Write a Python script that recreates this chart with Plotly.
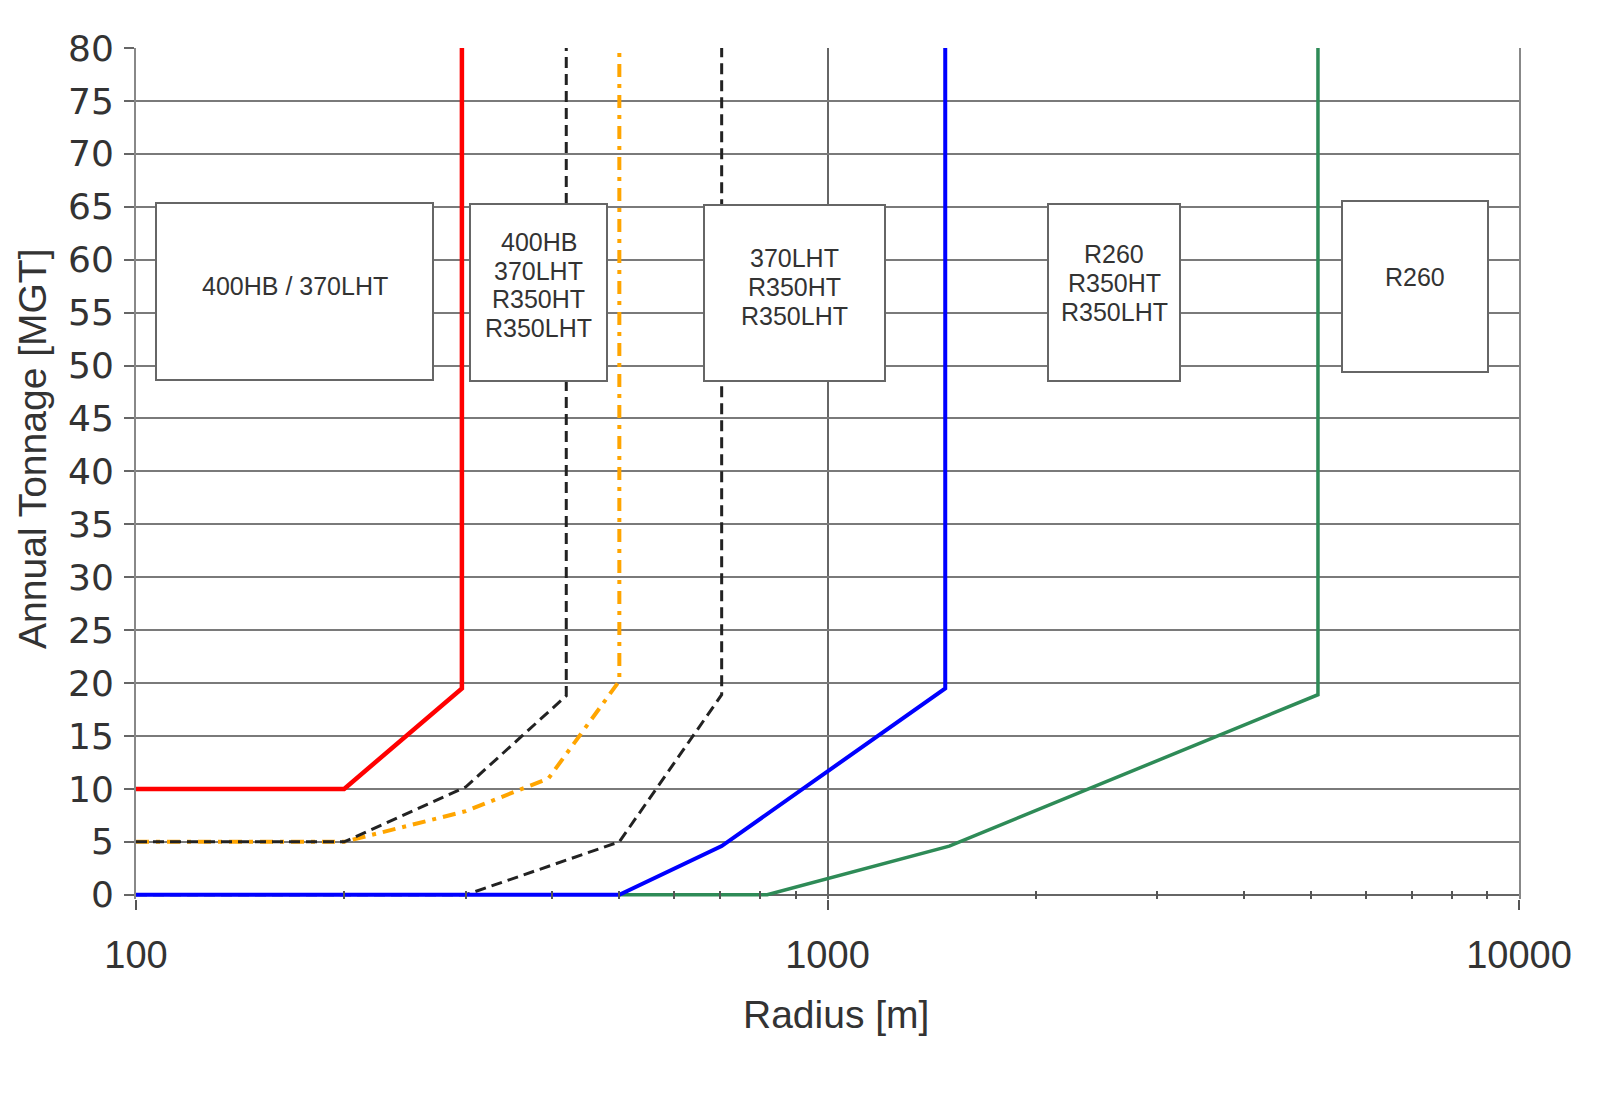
"""
Annual tonnage vs. curve radius: rail grade selection chart
"""

import plotly.graph_objects as go

# --- data ------------------------------------------------------------------
red_x = [100, 200, 296, 296]
red_y = [10, 10, 19.5, 80]

black1_x = [100, 200, 300, 419, 419]
black1_y = [5, 5, 10.2, 18.8, 80]

orange_x = [100, 200, 300, 395, 500, 500]
orange_y = [5, 5, 7.9, 11, 20.2, 80]

black2_x = [100, 300, 500, 703, 703]
black2_y = [0, 0, 5, 18.9, 80]

blue_x = [100, 500, 703, 1480, 1480]
blue_y = [0, 0, 4.6, 19.5, 80]

green_x = [500, 818, 1500, 5120, 5120]
green_y = [0, 0, 4.6, 18.9, 80]

box_labels = [
    ["400HB / 370LHT"],
    ["400HB", "370LHT", "R350HT", "R350LHT"],
    ["370LHT", "R350HT", "R350LHT"],
    ["R260", "R350HT", "R350LHT"],
    ["R260"],
]

y_ticks = list(range(0, 85, 5))
x_ticks = [100, 1000, 10000]
x_minor = [200, 300, 400, 500, 600, 700, 800, 900,
           2000, 3000, 4000, 5000, 6000, 7000, 8000, 9000]

# --- layout geometry (page pixels) -----------------------------------------
OFF = 8                           # page body margin around the plot div
W, H = 1600 - OFF, 1093 - OFF
PL, PR, PT = 136, 1519, 48
Y0_PX = 895                       # pixel row of y = 0
Y_MIN = -0.4
PB = Y0_PX + (Y0_PX - PT) / 80 * (-Y_MIN)
LINE_GAP = 28.7                   # text line spacing inside the boxes


def px_x(x):
    return (x - PL) / (PR - PL)


def px_y(y):
    return (PB - y) / (PB - PT)


# box outlines: (x0, x1, top, bottom) and text centre row
box_geom = [
    (156, 433, 203, 380, 286),
    (470, 607, 204, 381, 285),
    (704, 885, 205, 381, 287),
    (1048, 1180, 204, 381, 283),
    (1342, 1488, 201, 372, 277),
]

TXT = "#333333"
fig = go.Figure()

fig.add_trace(go.Scatter(x=black2_x, y=black2_y, mode="lines",
                         line=dict(color="#222222", width=3, dash="11px,6px")))
fig.add_trace(go.Scatter(x=orange_x, y=orange_y, mode="lines",
                         line=dict(color="#FFA500", width=4, dash="13px,7px,4px,7px")))
fig.add_trace(go.Scatter(x=black1_x, y=black1_y, mode="lines",
                         line=dict(color="#222222", width=3, dash="11px,6px")))
fig.add_trace(go.Scatter(x=red_x, y=red_y, mode="lines",
                         line=dict(color="#FF0000", width=4.5)))
fig.add_trace(go.Scatter(x=green_x, y=green_y, mode="lines",
                         line=dict(color="#2E8B57", width=3.5)))
fig.add_trace(go.Scatter(x=blue_x, y=blue_y, mode="lines",
                         line=dict(color="#0000FF", width=4)))

# boxes drawn above the curves, one annotation per text line
for (x0, x1, t, b, tc), lines in zip(box_geom, box_labels):
    fig.add_shape(type="rect", xref="paper", yref="paper",
                  x0=px_x(x0), x1=px_x(x1), y0=px_y(b), y1=px_y(t),
                  line=dict(color="#666666", width=2), fillcolor="white",
                  layer="above")
    n = len(lines)
    for i, txt in enumerate(lines):
        fig.add_annotation(xref="paper", yref="paper",
                           x=px_x((x0 + x1) / 2),
                           y=px_y(tc + (i - (n - 1) / 2) * LINE_GAP),
                           xanchor="center", yanchor="middle",
                           text=txt, showarrow=False,
                           font=dict(family="Liberation Sans, Arial", size=25, color=TXT))

# axis titles
fig.add_annotation(xref="paper", yref="paper", x=px_x(836), y=px_y(1015),
                   xanchor="center", yanchor="middle",
                   text="Radius [m]", showarrow=False,
                   font=dict(family="Liberation Sans, Arial", size=39, color=TXT))
fig.add_annotation(xref="paper", yref="paper", x=px_x(33), y=px_y(449),
                   xanchor="center", yanchor="middle",
                   text="Annual Tonnage [MGT]", showarrow=False, textangle=-90,
                   font=dict(family="Liberation Sans, Arial", size=39, color=TXT))

fig.update_layout(
    width=W, height=H,
    margin=dict(l=PL - OFF, r=1600 - PR, t=PT - OFF, b=1093 - PB),
    paper_bgcolor="white", plot_bgcolor="white",
    showlegend=False,
)
fig.update_xaxes(
    type="log", range=[2, 4],
    tickvals=x_ticks, ticktext=[str(v) for v in x_ticks],
    ticks="outside", ticklen=10, tickwidth=1.5, tickcolor="#555555",
    showgrid=True, gridcolor="#666666", gridwidth=1.5,
    showline=False, zeroline=False,
    ticklabelstandoff=12,
    tickfont=dict(family="Liberation Sans, Arial", size=38, color=TXT),
    minor=dict(tickvals=x_minor, ticks="inside", ticklen=8, tickwidth=1.5,
               tickcolor="#555555", showgrid=False),
)
fig.update_yaxes(
    range=[Y_MIN, 80],
    tickvals=y_ticks,
    ticks="outside", ticklen=10, tickwidth=1.5, tickcolor="#666666",
    showgrid=True, gridcolor="#7a7a7a", gridwidth=2,
    showline=True, linecolor="#888888", linewidth=2, mirror=True,
    zeroline=True, zerolinecolor="#666666", zerolinewidth=2,
    ticklabelstandoff=3,
    tickfont=dict(family="DejaVu Sans", size=36, color=TXT),
)

fig.write_html("out.html")
